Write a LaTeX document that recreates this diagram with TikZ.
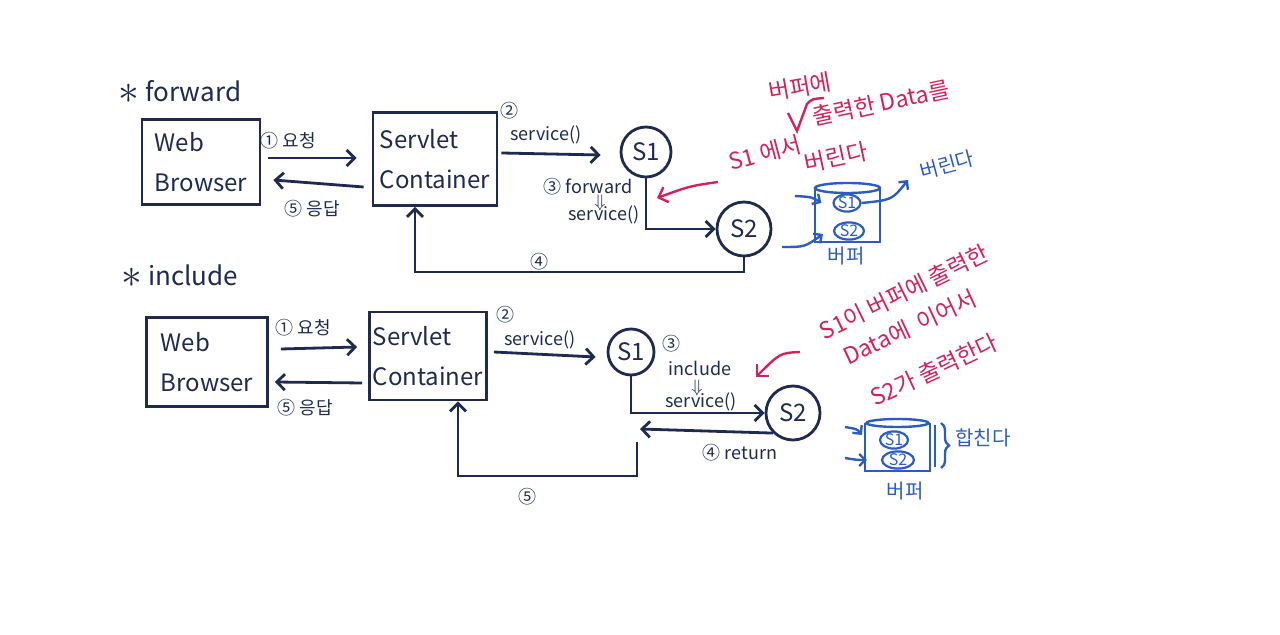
\documentclass[tikz,border=0pt]{standalone}
\usepackage{fontspec}
\setmainfont{Noto Sans CJK KR}
\usetikzlibrary{arrows.meta,calc,shapes.geometric,decorations.pathreplacing}
\definecolor{ink}{HTML}{1E2A4F}
\definecolor{pen}{HTML}{D4215A}
\definecolor{marker}{HTML}{2B5CC2}
\newcommand{\bigast}{\raisebox{-1pt}{\fontsize{20}{20}\selectfont$\ast$}}
\begin{document}
\begin{tikzpicture}[x=0.5pt,y=-0.5pt,
    box/.style={draw=ink,line width=1.4pt,align=left,text=ink,inner sep=0pt,
      font=\fontsize{12}{20}\selectfont},
    srv/.style={circle,draw=ink,line width=1.4pt,text=ink,inner sep=0pt,
      font=\fontsize{12}{14}\selectfont},
    lbl/.style={text=ink,inner sep=1pt,font=\fontsize{9}{11}\selectfont},
    title/.style={text=ink,font=\fontsize{13}{15}\selectfont},
    flow/.style={draw=ink,line width=1.4pt,-{Straight Barb[length=4pt,width=8pt]}},
    note/.style={text=pen,inner sep=0pt,font=\fontsize{11.5}{13}\selectfont},
    rflow/.style={draw=pen,line width=1.2pt,-{Straight Barb[length=4pt,width=8pt]}},
    buf/.style={draw=marker,line width=1.2pt},
    bflow/.style={buf,-{Straight Barb[length=3pt,width=6pt]}},
    cell/.style={ellipse,draw=marker,line width=1.1pt,text=marker,inner sep=0pt,
      font=\fontsize{8}{9}\selectfont},
    bnote/.style={text=marker,inner sep=0pt,font=\fontsize{10}{12}\selectfont}]
  \useasboundingbox (0,0) rectangle (1280,635);
  % ------ forward -----------------------------
  \node[title] (tf) at (180,92) {\bigast\ forward};
  \node[box,minimum width=59pt,minimum height=42.5pt] (wb1) at (201,162) {Web\\Browser};
  \node[box,minimum width=62pt,minimum height=46.5pt] (sc1) at (435,159) {Servlet\\Container};
  \node[srv,minimum size=25pt] (s1a) at (646,152) {S1};
  \node[srv,minimum size=27pt] (s2a) at (744,229) {S2};
  \node[lbl] (q1a) at (288,141) {① 요청};
  \node[lbl] (q5a) at (312,209) {⑤ 응답};
  \node[lbl] (q2a) at (509,111) {②};
  \node[lbl] (sva) at (546,135) {service()};
  \node[lbl] (q3a) at (588,187) {③ forward};
  \node[lbl] (dna) at (600,203) {$\Downarrow$};
  \node[lbl] (svb) at (604,215) {service()};
  \node[lbl] (q4a) at (539,262) {④};
  \draw[flow] ($(wb1.east)+(7,-4)$) -- ($(sc1.west)+(-15,-1)$);
  \draw[flow] ($(sc1.west)+(-8,28)$) -- ($(wb1.east)+(12,18)$);
  \draw[flow] ($(sc1.east)+(3,-6)$) -- ($(s1a.west)+(-19,3)$);
  \draw[flow] (s1a.south) |- (s2a.west);
  \coordinate (c4a) at (415,272);
  \draw[flow] (s2a.south) |- (c4a) -- (c4a |- sc1.south);
  % red notes
  \node[note,rotate=10] (ra1) at (800,87) {버퍼에};
  \node[note,rotate=15] (ra2) at (765,153) {S1 에서};
  \node[note,rotate=12] (ra3) at (881,103) {출력한 Data를};
  \node[note,rotate=12] (ra4) at (836,157) {버린다};
  \draw[pen,line width=1.2pt] (788,113) -- (797,131) -- (807,104) .. controls (812,99) .. (824,98);
  \coordinate (ras) at (718,182);
  \coordinate (rat) at (657,198);
  \draw[rflow] (ras) .. controls (690,186) .. (rat);
  % buffer
  \draw[buf] (815,188) -- (815,242) -- (880,242) -- (880,188);
  \draw[buf] (847.5,188) ellipse (16.25pt and 2.5pt);
  \node[cell,minimum width=13.5pt,minimum height=8.5pt] (b1a) at (847,203) {S1};
  \node[cell,minimum width=15pt,minimum height=8.5pt] (b2a) at (849,231) {S2};
  \draw[bflow] (795,196) .. controls (812,197) .. ($(b1a.west)+(-11,0)$);
  \draw[bflow] (782,247) .. controls (805,247) .. ($(b2a.west)+(-10,3)$);
  \draw[bflow] (b1a.east) .. controls (892,200) .. (908,180);
  \node[bnote,rotate=15] (ba1) at (947,165) {버린다};
  \node[bnote] (ba2) at (846,256) {버퍼};
  % ------ include -----------------------------
  \node[title] (ti) at (180,276) {\bigast\ include};
  \node[box,minimum width=60.5pt,minimum height=44.5pt] (wb2) at (207,362) {Web\\Browser};
  \node[box,minimum width=58.5pt,minimum height=44pt] (sc2) at (428,356) {Servlet\\Container};
  \node[srv,minimum size=23pt] (s1b) at (631,352) {S1};
  \node[srv,minimum size=27pt] (s2b) at (793,413) {S2};
  \node[lbl] (q1b) at (303,328) {① 요청};
  \node[lbl] (q5b) at (305,408) {⑤ 응답};
  \node[lbl] (q2b) at (505,315) {②};
  \node[lbl] (svc) at (540,340) {service()};
  \node[lbl] (q3b) at (671,344) {③};
  \node[lbl] (inc) at (700,368) {include};
  \node[lbl] (dnb) at (697,388) {$\Downarrow$};
  \node[lbl] (svd) at (701,402) {service()};
  \node[lbl] (q4b) at (740,453) {④ return};
  \node[lbl] (q5c) at (527,497) {⑤};
  \draw[flow] ($(wb2.east)+(12,-13)$) -- ($(sc2.west)+(-11,-9)$);
  \draw[flow] ($(sc2.west)+(-6,27)$) -- ($(wb2.east)+(6,20)$);
  \draw[flow] ($(sc2.east)+(6,-4)$) -- ($(s1b.west)+(-11,5)$);
  \draw[flow] (s1b.south) |- (s2b.west);
  \coordinate (rt) at (640,429);
  \draw[flow] (s2b.south west) -- (rt);
  \coordinate (c5a) at (637,442);
  \coordinate (c5b) at (458,476);
  \draw[flow] (c5a) |- (c5b) -- (c5b |- sc2.south);
  % red notes
  \node[note,rotate=26] (rb1) at (904,292) {S1이 버퍼에 출력한};
  \node[note,rotate=25] (rb2) at (910,327) {Data에 \ 이어서};
  \node[note,rotate=25] (rb3) at (934,370) {S2가 출력한다};
  \coordinate (rbs) at (800,352);
  \coordinate (rbt) at (756,377);
  \draw[rflow] (rbs) .. controls (780,353) .. (rbt);
  % buffer
  \draw[buf] (865,423) -- (865,471) -- (930,471) -- (930,423);
  \draw[buf] (935,425) -- (935,467);
  \draw[buf] (897.5,423) ellipse (15.5pt and 2pt);
  \node[cell,minimum width=14pt,minimum height=7.5pt] (b1b) at (894,440) {S1};
  \node[cell,minimum width=16pt,minimum height=7.5pt] (b2b) at (898,460) {S2};
  \draw[bflow] (845,427) .. controls (857,429) .. ($(b1b.west)+(-17,-5)$);
  \draw[bflow] (845,458) .. controls (857,460) .. ($(b2b.west)+(-14,0)$);
  \draw[buf,decorate,decoration={brace,amplitude=4pt}] (941,423) -- (941,468);
  \node[bnote] (bb1) at (983,438) {합친다};
  \node[bnote] (bb2) at (905,491) {버퍼};
\end{tikzpicture}
\end{document}
